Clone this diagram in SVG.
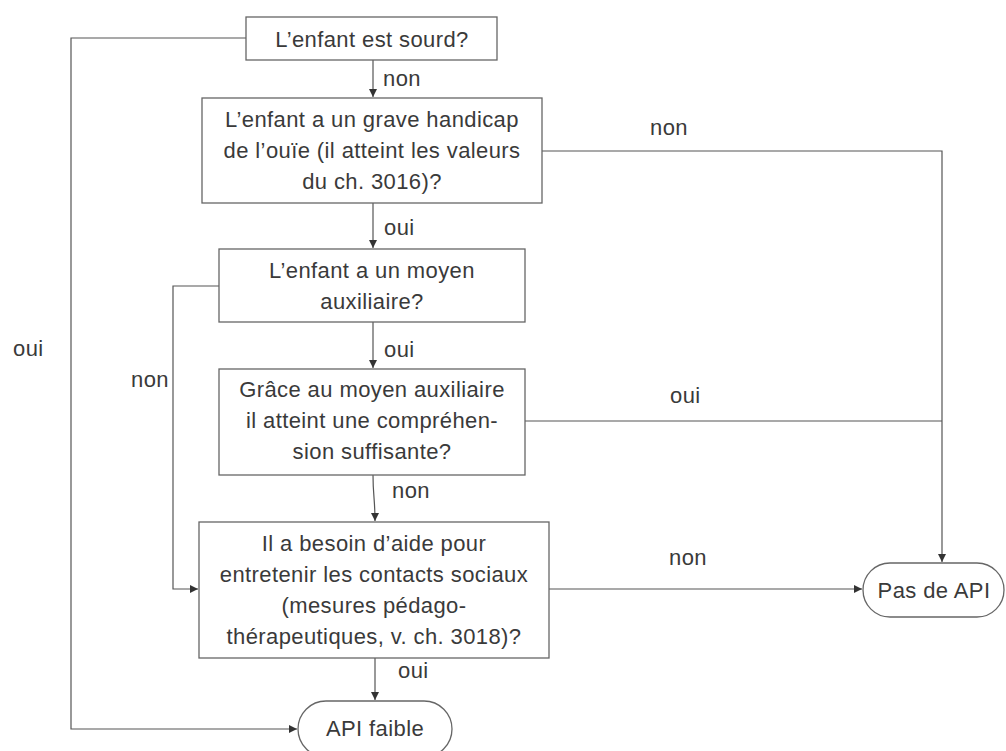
<svg xmlns="http://www.w3.org/2000/svg" width="1006" height="751" viewBox="0 0 1006 751">
<style>
text{font-family:"Liberation Sans",Arial,sans-serif;font-size:22px;fill:#3a3a3a;letter-spacing:0.4px}
.c{text-anchor:middle}
.box{fill:#fff;stroke:#666;stroke-width:1.3}
.ln{fill:none;stroke:#555;stroke-width:1.2}
</style>
<defs>
<marker id="ah" viewBox="0 0 8 8" refX="8" refY="4" markerWidth="8" markerHeight="8" markerUnits="userSpaceOnUse" orient="auto">
<path d="M0,0 L8,4 L0,8 z" fill="#333"/>
</marker>
</defs>
<rect width="1006" height="751" fill="#fff"/>
<g id="connectors">
<path class="ln" d="M246,38 H71 V729 H297" marker-end="url(#ah)"/>
<path class="ln" d="M373,60 V97" marker-end="url(#ah)"/>
<path class="ln" d="M542,151 H942 V562" marker-end="url(#ah)"/>
<path class="ln" d="M373,203 V248" marker-end="url(#ah)"/>
<path class="ln" d="M219,286 H173 V589 H198" marker-end="url(#ah)"/>
<path class="ln" d="M373,322 V368" marker-end="url(#ah)"/>
<path class="ln" d="M525,421 H942"/>
<path class="ln" d="M373,475 C373,495 375,500 375,521" marker-end="url(#ah)"/>
<path class="ln" d="M549,589 H862" marker-end="url(#ah)"/>
<path class="ln" d="M375,658 V700" marker-end="url(#ah)"/>
<text x="383" y="86">non</text>
<text x="384" y="235">oui</text>
<text x="384" y="357">oui</text>
<text x="392" y="498">non</text>
<text x="398" y="678">oui</text>
<text x="650" y="135">non</text>
<text x="670" y="403">oui</text>
<text x="669" y="565">non</text>
<text x="13" y="356">oui</text>
<text x="131" y="387">non</text>
</g>
<g id="n1">
<rect class="box" x="246" y="17" width="251" height="43"/>
<text class="c" x="372" y="47">L’enfant est sourd?</text>
</g>
<g id="n2">
<rect class="box" x="202" y="98" width="340" height="105"/>
<text class="c" x="372" y="127">L’enfant a un grave handicap</text>
<text class="c" x="372" y="158">de l’ouïe (il atteint les valeurs</text>
<text class="c" x="372" y="189">du ch. 3016)?</text>
</g>
<g id="n3">
<rect class="box" x="219" y="249" width="306" height="73"/>
<text class="c" x="372" y="278">L’enfant a un moyen</text>
<text class="c" x="372" y="309">auxiliaire?</text>
</g>
<g id="n4">
<rect class="box" x="219" y="369" width="306" height="106"/>
<text class="c" x="372" y="397">Grâce au moyen auxiliaire</text>
<text class="c" x="372" y="428">il atteint une compréhen-</text>
<text class="c" x="372" y="459">sion suffisante?</text>
</g>
<g id="n5">
<rect class="box" x="199" y="522" width="350" height="136"/>
<text class="c" x="374" y="551">Il a besoin d’aide pour</text>
<text class="c" x="374" y="582">entretenir les contacts sociaux</text>
<text class="c" x="374" y="613">(mesures pédago-</text>
<text class="c" x="374" y="644">thérapeutiques, v. ch. 3018)?</text>
</g>
<g id="n6">
<rect class="box" x="863" y="563" width="141" height="54" rx="27" ry="27"/>
<text class="c" x="934" y="598">Pas de API</text>
</g>
<g id="n7">
<rect class="box" x="298" y="701" width="154" height="56" rx="28" ry="28"/>
<text class="c" x="375" y="736">API faible</text>
</g>
</svg>
